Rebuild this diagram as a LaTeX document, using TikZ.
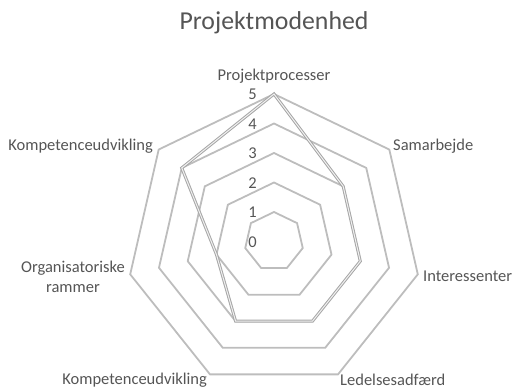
\documentclass[tikz,border=0pt]{standalone}
\usepackage{fontspec}
\setmainfont{Carlito}
\definecolor{txt}{HTML}{555555}
\definecolor{ringc}{HTML}{BDBDBD}
\definecolor{datac}{HTML}{A6A6A6}
\begin{document}
\begin{tikzpicture}[x=1pt,y=1pt,
  ring/.style={draw=ringc,line width=1.8pt,line join=miter},
  series/.style={draw=datac,line width=1pt,double=gray!12,double distance=1pt,line join=miter},
  lbl/.style={text=txt,font=\fontsize{16.5}{19}\selectfont,inner sep=0pt},
  tick/.style={text=txt,font=\fontsize{16.5}{19}\selectfont,inner sep=0pt,anchor=east}]
\useasboundingbox (0,0) rectangle (514,-389);
\node[text=txt,font=\fontsize{25.8}{30}\selectfont,inner sep=0pt] (title) at (274,-23) {Projektmodenhed};
\begin{scope}[shift={(274,-241.5)}]
  \def\u{29.5}
  \foreach \r in {1,...,5}{
    \draw[ring] (90:\r*\u) \foreach \k in {1,...,6}{ -- ({90-\k*360/7}:\r*\u) } -- cycle;
  }
  \foreach \v [count=\k from 0] in {5,3,3,3,3,2,4}{
    \coordinate (d\k) at ({90-\k*360/7}:\v*\u);
  }
  \draw[series] (d0) -- (d1) -- (d2) -- (d3) -- (d4) -- (d5) -- (d6) -- cycle;
  \foreach \t in {0,...,5}{
    \node[tick] (t\t) at (-17,\t*\u-0.5) {\t};
  }
\end{scope}
\node[lbl] (l0) at (274,-76) {Projektprocesser};
\node[lbl,anchor=west] (l1) at (393,-146) {Samarbejde};
\node[lbl,anchor=west] (l2) at (423,-276) {Interessenter};
\node[lbl,anchor=west] (l3) at (340,-380) {Ledelsesadfærd};
\node[lbl,anchor=east] (l4) at (207,-380) {Kompetenceudvikling};
\node[lbl,align=center,anchor=east,font=\fontsize{16.5}{20}\selectfont] (l5) at (125,-277) {Organisatoriske\\rammer};
\node[lbl,anchor=east] (l6) at (153,-146) {Kompetenceudvikling};
\end{tikzpicture}
\end{document}
